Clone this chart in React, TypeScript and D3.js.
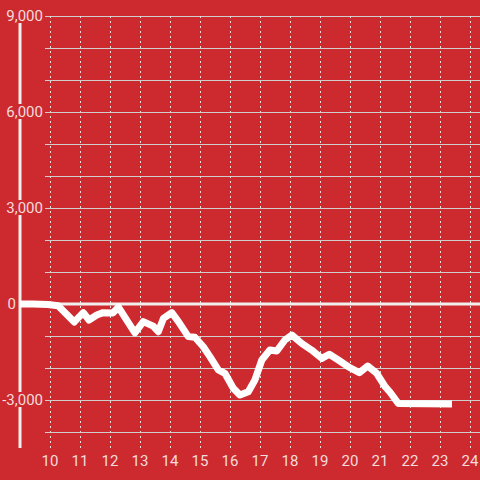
import { useEffect, useRef } from "react";
import * as d3 from "d3";

// hour of day (x) and cumulative value (y)
const hours = [
  9.0, 9.43, 9.93, 10.27, 10.81, 11.11, 11.3, 11.56, 11.77, 12.1, 12.28, 12.83,
  13.11, 13.44, 13.61, 13.78, 14.06, 14.28, 14.61, 14.83, 15.11, 15.33, 15.61,
  15.83, 16.11, 16.33, 16.61, 16.83, 17.06, 17.33, 17.56, 17.83, 18.06, 18.39,
  18.72, 19.06, 19.31, 19.61, 19.94, 20.31, 20.59, 20.89, 21.17, 21.33, 21.61,
  23.4,
];
const values = [
  0, 0, -15, -55, -560, -270, -500, -345, -270, -280, -95, -900, -550, -690,
  -865, -450, -270, -550, -1020, -1040, -1335, -1645, -2060, -2165, -2635,
  -2845, -2740, -2375, -1750, -1440, -1470, -1125, -970, -1230, -1440, -1700,
  -1570, -1750, -1960, -2145, -1940, -2165, -2585, -2750, -3110, -3125,
];
const xTicks = [10, 11, 12, 13, 14, 15, 16, 17, 18, 19, 20, 21, 22, 23, 24];
const yGrid = [-4000, -3000, -2000, -1000, 1000, 2000, 3000, 4000, 5000, 6000, 7000, 8000, 9000];
const yLabels = [-3000, 0, 3000, 6000, 9000];

const BG = "#cd2a30";
const FONT = "Roboto, 'Open Sans', sans-serif";

const App = () => {
  const svgRef = useRef<SVGSVGElement | null>(null);

  useEffect(() => {
    const svg = d3.select(svgRef.current);
    svg.selectAll("*").remove();

    const width = 480;
    const height = 480;

    const x = d3.scaleLinear().domain([9, 24.3333]).range([20, 480]);
    const y = d3.scaleLinear().domain([-4500, 9000]).range([448, 16]);

    svg.append("rect").attr("width", width).attr("height", height).attr("fill", BG);

    // horizontal grid
    svg
      .append("g")
      .selectAll("line")
      .data(yGrid)
      .join("line")
      .attr("x1", 45)
      .attr("x2", width)
      .attr("y1", (d) => Math.round(y(d)) + 0.5)
      .attr("y2", (d) => Math.round(y(d)) + 0.5)
      .attr("stroke", "#d0cccc")
      .attr("stroke-width", 1);

    // vertical dashed grid
    svg
      .append("g")
      .selectAll("line")
      .data(xTicks)
      .join("line")
      .attr("x1", (d) => Math.round(x(d)) + 0.5)
      .attr("x2", (d) => Math.round(x(d)) + 0.5)
      .attr("y1", y(9000))
      .attr("y2", y(-4500))
      .attr("stroke", "#e6dede")
      .attr("stroke-width", 1)
      .attr("stroke-dasharray", "2,3");

    // zero line
    svg
      .append("line")
      .attr("x1", x(9))
      .attr("x2", width)
      .attr("y1", y(0))
      .attr("y2", y(0))
      .attr("stroke", "#f1eeee")
      .attr("stroke-width", 3);

    // y axis line
    svg
      .append("line")
      .attr("x1", x(9))
      .attr("x2", x(9))
      .attr("y1", y(9000))
      .attr("y2", y(-4500))
      .attr("stroke", "#f1eeee")
      .attr("stroke-width", 3);

    // y labels with background (zero label sits left of the axis)
    const fmt = (d: number) => d3.format(",")(d).replace("\u2212", "-");
    const labelEnd = (d: number) => (d === 0 ? 16 : 43);
    const yl = svg.append("g").selectAll("g").data(yLabels.filter((d) => d !== 0)).join("g");
    yl.append("rect")
      .attr("x", 4)
      .attr("y", (d) => y(d) - 8)
      .attr("width", 40)
      .attr("height", 15)
      .attr("fill", BG);

    svg
      .append("g")
      .selectAll("text")
      .data(yLabels)
      .join("text")
      .attr("x", (d) => labelEnd(d))
      .attr("y", (d) => y(d))
      .attr("dy", "0.36em")
      .attr("text-anchor", "end")
      .attr("font-family", FONT)
      .attr("font-size", 15)
      .attr("fill", "#f3dcdc")
      .text((d) => fmt(d));

    // x labels
    svg
      .append("g")
      .selectAll("text")
      .data(xTicks)
      .join("text")
      .attr("x", (d) => x(d))
      .attr("y", 466)
      .attr("text-anchor", "middle")
      .attr("font-family", FONT)
      .attr("font-size", 15)
      .attr("fill", "#f3dcdc")
      .text((d) => d);

    // line
    const pts = hours.map((h, i) => [h, values[i]] as [number, number]);
    const line = d3
      .line<[number, number]>()
      .x((d) => x(d[0]))
      .y((d) => y(d[1]));

    svg
      .append("path")
      .datum(pts)
      .attr("fill", "none")
      .attr("stroke", "#ffffff")
      .attr("stroke-width", 7)
      .attr("stroke-linejoin", "round")
      .attr("d", line);
  }, []);

  return (
    <svg
      ref={svgRef}
      width={480}
      height={480}
      style={{ position: "absolute", left: 0, top: 0, display: "block" }}
    />
  );
};

export default App;
